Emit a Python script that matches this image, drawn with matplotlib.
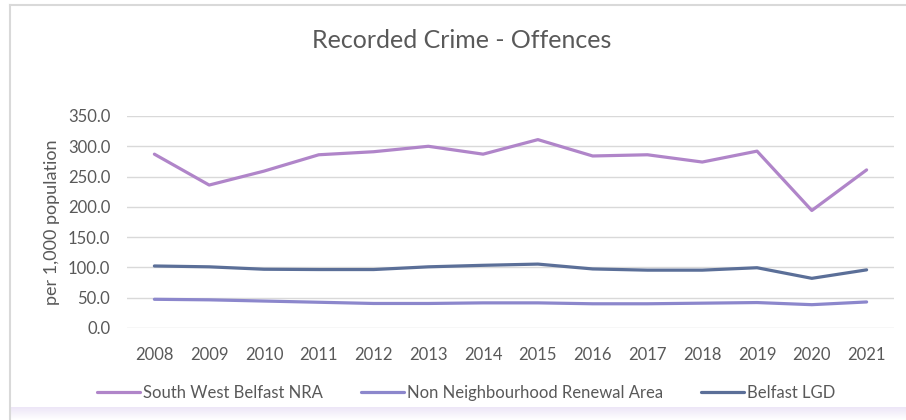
import numpy as np
import matplotlib
matplotlib.use('Agg')
import matplotlib.pyplot as plt
from matplotlib.lines import Line2D

plt.rcParams['font.family'] = ['Lato', 'DejaVu Sans']

years = ['2008', '2009', '2010', '2011', '2012', '2013', '2014',
         '2015', '2016', '2017', '2018', '2019', '2020', '2021']

south_west = [287, 236, 259, 286, 291, 300, 287, 311, 284, 286, 274, 292, 194, 261]
non_nra = [47.4, 46.5, 44.5, 42.5, 40.5, 40.5, 41.5, 41.5, 40, 40, 41, 42, 38.5, 43]
belfast = [102.4, 101, 97, 96.5, 96.5, 101, 103.5, 105.5, 97.5, 95.5, 95.5, 99.5, 82, 96]

series = [
    ('South West Belfast NRA', south_west, '#B085C9'),
    ('Non Neighbourhood Renewal Area', non_nra, '#8C87CC'),
    ('Belfast LGD', belfast, '#5B6F98'),
]

fig = plt.figure(figsize=(9.06, 4.2), dpi=100)
ax = fig.add_axes([127 / 906, 1 - 328 / 420, (894 - 127) / 906, (328 - 116) / 420])

x = np.arange(len(years))
handles = []
for name, vals, col in series:
    h, = ax.plot(x, vals, color=col, lw=2.3, solid_capstyle='round',
                 solid_joinstyle='round', label=name)
    handles.append(h)

ax.set_xlim(-0.5, len(years) - 0.5)
ax.set_ylim(0, 350)
ax.set_yticks(np.arange(0, 351, 50))
ax.set_yticklabels([f'{v:.1f}' for v in np.arange(0, 351, 50)])
ax.set_xticks(x)
ax.set_xticklabels(years)
ax.grid(axis='y', color='#D9D9D9', lw=1.0)
ax.set_axisbelow(True)
for s in ax.spines.values():
    s.set_visible(False)
ax.tick_params(length=0, labelsize=12, colors='#595959', pad=12)
ax.tick_params(axis='x', pad=14)
ax.set_ylabel('per 1,000 population', fontsize=13, color='#595959', labelpad=6)

fig.text(462 / 906, 1 - 40 / 420, 'Recorded Crime - Offences', ha='center',
         va='center', fontsize=18, color='#595959')

fig.legend(handles=handles, loc='center', bbox_to_anchor=(466 / 906, 1 - 393 / 420),
           ncols=3, frameon=False, fontsize=12, handlelength=2.6,
           handletextpad=0.15, columnspacing=2.3, labelcolor='#595959')

# chart border and bottom shading
fig.add_artist(Line2D([10 / 906, 10 / 906], [0, 1 - 5 / 420], color='#D9D9D9', lw=1.5,
                      transform=fig.transFigure))
fig.add_artist(Line2D([10 / 906, 1], [1 - 5 / 420, 1 - 5 / 420], color='#D9D9D9', lw=1.5,
                      transform=fig.transFigure))
gax = fig.add_axes([11 / 906, 0, 1 - 11 / 906, 13 / 420])
grad = np.linspace(1, 0, 50).reshape(-1, 1)
gax.imshow(grad, aspect='auto', cmap=matplotlib.colors.LinearSegmentedColormap.from_list(
    'g', ['#FFFFFF', '#EDE6F7']), extent=(0, 1, 0, 1))
gax.axis('off')

fig.savefig('out.png', dpi=100)
